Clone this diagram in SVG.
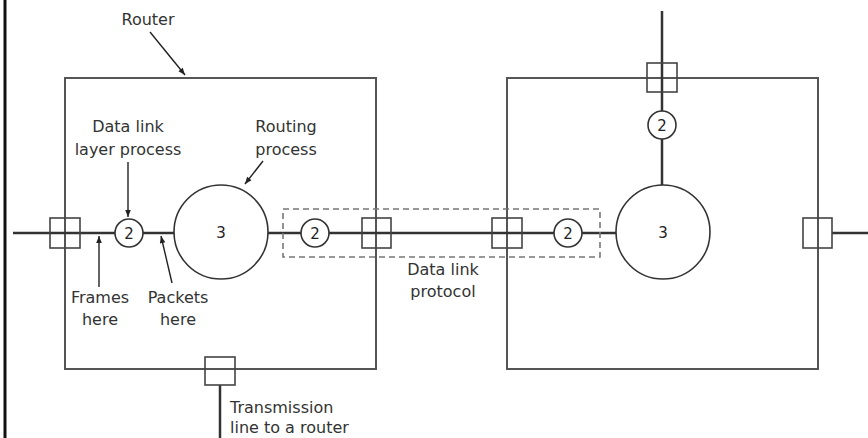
<svg xmlns="http://www.w3.org/2000/svg" width="868" height="438" viewBox="0 0 868 438">
<defs>
<marker id="ah" viewBox="0 0 10 10" refX="10" refY="5" markerWidth="9" markerHeight="7" markerUnits="userSpaceOnUse" orient="auto">
<path d="M0,1 L10,5 L0,9 z" fill="#222"/>
</marker>
<style>
.lbl{font-family:"DejaVu Sans","Liberation Sans",Arial,sans-serif;font-size:16px;fill:#333;text-anchor:middle}
.num{font-family:"DejaVu Sans","Liberation Sans",Arial,sans-serif;font-size:15px;fill:#222;text-anchor:middle}
.box{fill:none;stroke:#555;stroke-width:2}
.line{fill:none;stroke:#333;stroke-width:2.5}
.port{fill:none;stroke:#444;stroke-width:1.6}
.proc{fill:#fff;stroke:#333;stroke-width:1.6}
.ptr{fill:none;stroke:#222;stroke-width:1.4;marker-end:url(#ah)}
.dash{fill:none;stroke:#777;stroke-width:1.6;stroke-dasharray:6,4}
</style>
</defs>
<rect width="868" height="438" fill="#fff"/>
<line x1="5" y1="0" x2="5" y2="438" stroke="#111" stroke-width="3"/>

<g id="routerA">
<rect class="box" x="65" y="78" width="311" height="291"/>
</g>
<g id="routerB">
<rect class="box" x="507" y="78" width="311" height="291"/>
</g>

<g id="connectors">
<line class="line" x1="13" y1="233" x2="115" y2="233"/>
<line class="line" x1="143" y1="233" x2="174" y2="233"/>
<line class="line" x1="268" y1="233" x2="301" y2="233"/>
<line class="line" x1="329" y1="233" x2="554" y2="233"/>
<line class="line" x1="582" y1="233" x2="616" y2="233"/>
<line class="line" x1="832" y1="233" x2="868" y2="233"/>
<line class="line" x1="662" y1="11" x2="662" y2="111"/>
<line class="line" x1="662" y1="139" x2="662" y2="185"/>
<line class="line" x1="220" y1="385" x2="220" y2="438"/>
</g>

<g id="dlprotocol">
<rect class="dash" x="283" y="209" width="317" height="48"/>
<text class="lbl" x="443" y="275">Data link</text>
<text class="lbl" x="443" y="297">protocol</text>
</g>

<g id="portA-left"><rect class="port" x="50" y="218" width="30" height="30"/></g>
<g id="portA-right"><rect class="port" x="362" y="218" width="29" height="30"/></g>
<g id="portA-bottom"><rect class="port" x="205" y="357" width="30" height="28"/></g>
<g id="portB-left"><rect class="port" x="492" y="218" width="30" height="30"/></g>
<g id="portB-right"><rect class="port" x="803" y="218" width="29" height="30"/></g>
<g id="portB-top"><rect class="port" x="647" y="63" width="30" height="29"/></g>

<g id="dlA1"><circle class="proc" cx="129" cy="233" r="14"/><text class="num" x="129" y="238.5">2</text></g>
<g id="rpA"><circle class="proc" cx="221" cy="232" r="47"/><text class="num" x="221" y="237.5">3</text></g>
<g id="dlA2"><circle class="proc" cx="315" cy="233" r="14"/><text class="num" x="315" y="238.5">2</text></g>
<g id="dlB1"><circle class="proc" cx="568" cy="233" r="14"/><text class="num" x="568" y="238.5">2</text></g>
<g id="rpB"><circle class="proc" cx="663" cy="232" r="47"/><text class="num" x="663" y="237.5">3</text></g>
<g id="dlB2"><circle class="proc" cx="662" cy="125" r="14"/><text class="num" x="662" y="130.5">2</text></g>

<g id="labels">
<text class="lbl" x="148" y="25">Router</text>
<line class="ptr" x1="150" y1="32" x2="185" y2="75"/>
<text class="lbl" x="128" y="132">Data link</text>
<text class="lbl" x="128" y="155">layer process</text>
<line class="ptr" x1="128" y1="162" x2="128" y2="217"/>
<text class="lbl" x="286" y="132">Routing</text>
<text class="lbl" x="286" y="155">process</text>
<line class="ptr" x1="263" y1="161" x2="245" y2="184"/>
<text class="lbl" x="100" y="303">Frames</text>
<text class="lbl" x="100" y="325">here</text>
<line class="ptr" x1="99" y1="287" x2="99" y2="236"/>
<text class="lbl" x="178" y="303">Packets</text>
<text class="lbl" x="178" y="325">here</text>
<line class="ptr" x1="172" y1="283" x2="161" y2="236"/>
<text class="lbl" x="230" y="413" style="text-anchor:start">Transmission</text>
<text class="lbl" x="230" y="433" style="text-anchor:start">line to a router</text>
</g>
</svg>
